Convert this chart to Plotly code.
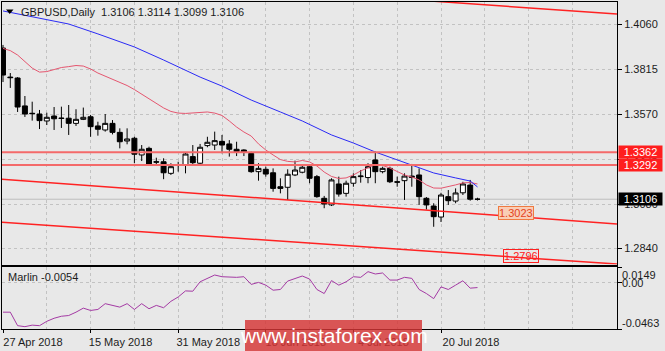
import plotly.graph_objects as go

W, H = 665, 351

# ---------------- data ----------------
bar_idx = list(range(66))
opens = [1.3929, 1.3771, 1.3766, 1.3614, 1.3574, 1.3570, 1.3532, 1.3559, 1.3548, 1.3547,
         1.3519, 1.3541, 1.3555, 1.3505, 1.3483, 1.3519, 1.3470, 1.3423, 1.3438, 1.3347,
         1.3383, 1.3310, 1.3310, 1.3247, 1.3292, 1.3292, 1.3338, 1.3302, 1.3398, 1.3401,
         1.3421, 1.3407, 1.3378, 1.3374, 1.3355, 1.3256, 1.3269, 1.3250, 1.3174, 1.3171,
         1.3238, 1.3253, 1.3283, 1.3229, 1.3111, 1.3075, 1.3189, 1.3138, 1.3193, 1.3229,
         1.3224, 1.3320, 1.3256, 1.3274, 1.3201, 1.3207, 1.3232, 1.3238, 1.3111, 1.3069,
         1.3009, 1.3120, 1.3096, 1.3141, 1.3183, 1.3106]
highs = [1.3946, 1.3793, 1.3771, 1.3668, 1.3637, 1.3592, 1.3577, 1.3608, 1.3610, 1.3619,
         1.3596, 1.3605, 1.3565, 1.3528, 1.3570, 1.3537, 1.3492, 1.3492, 1.3446, 1.3401,
         1.3392, 1.3332, 1.3329, 1.3302, 1.3310, 1.3359, 1.3401, 1.3407, 1.3446, 1.3474,
         1.3456, 1.3428, 1.3419, 1.3378, 1.3365, 1.3302, 1.3283, 1.3274, 1.3220, 1.3269,
         1.3316, 1.3292, 1.3292, 1.3238, 1.3124, 1.3220, 1.3229, 1.3207, 1.3247, 1.3265,
         1.3302, 1.3365, 1.3283, 1.3283, 1.3229, 1.3247, 1.3298, 1.3274, 1.3118, 1.3084,
         1.3141, 1.3156, 1.3165, 1.3201, 1.3211, 1.3114]
lows = [1.3744, 1.3712, 1.3581, 1.3554, 1.3534, 1.3488, 1.3510, 1.3483, 1.3494, 1.3456,
        1.3505, 1.3537, 1.3446, 1.3452, 1.3474, 1.3459, 1.3383, 1.3405, 1.3302, 1.3314,
        1.3292, 1.3292, 1.3215, 1.3238, 1.3256, 1.3247, 1.3292, 1.3292, 1.3389, 1.3374,
        1.3356, 1.3338, 1.3341, 1.3341, 1.3250, 1.3207, 1.3229, 1.3147, 1.3138, 1.3102,
        1.3232, 1.3247, 1.3193, 1.3114, 1.3057, 1.3069, 1.3120, 1.3120, 1.3174, 1.3196,
        1.3193, 1.3193, 1.3247, 1.3194, 1.3174, 1.3102, 1.3174, 1.3075, 1.3050, 1.2956,
        1.2982, 1.3075, 1.3084, 1.3129, 1.3098, 1.3099]
closes = [1.3782, 1.3768, 1.3608, 1.3570, 1.3572, 1.3534, 1.3552, 1.3544, 1.3546, 1.3519,
          1.3541, 1.3552, 1.3501, 1.3487, 1.3519, 1.3470, 1.3419, 1.3434, 1.3351, 1.3378,
          1.3296, 1.3308, 1.3250, 1.3283, 1.3290, 1.3352, 1.3305, 1.3389, 1.3416, 1.3425,
          1.3401, 1.3378, 1.3365, 1.3363, 1.3256, 1.3274, 1.3243, 1.3165, 1.3165, 1.3242,
          1.3265, 1.3280, 1.3220, 1.3120, 1.3080, 1.3211, 1.3134, 1.3193, 1.3229, 1.3232,
          1.3283, 1.3256, 1.3274, 1.3201, 1.3199, 1.3232, 1.3225, 1.3120, 1.3075, 1.3011,
          1.3129, 1.3098, 1.3140, 1.3189, 1.3106, 1.3106]

ma_fast = [1.3927, 1.3915, 1.3891, 1.3853, 1.3820, 1.3798, 1.3801, 1.3812, 1.3823, 1.3828,
           1.3834, 1.3831, 1.3815, 1.3793, 1.3777, 1.3760, 1.3744, 1.3725, 1.3703, 1.3679,
           1.3654, 1.3627, 1.3603, 1.3584, 1.3575, 1.3573, 1.3575, 1.3575, 1.3581, 1.3575,
           1.3562, 1.3532, 1.3499, 1.3472, 1.3450, 1.3407, 1.3374, 1.3347, 1.3322, 1.3312,
           1.3309, 1.3317, 1.3309, 1.3287, 1.3254, 1.3230, 1.3219, 1.3222, 1.3238, 1.3260,
           1.3279, 1.3295, 1.3290, 1.3276, 1.3257, 1.3238, 1.3227, 1.3211, 1.3184, 1.3167,
           1.3166, 1.3173, 1.3184, 1.3195, 1.3197, 1.3189]

ma_slow_bars = [0, 4, 9, 13, 18, 22, 27, 30, 34, 38, 41, 45, 48, 51, 54, 57, 59, 62, 64, 65]
ma_slow = [1.4131, 1.4101, 1.4060, 1.4006, 1.3935, 1.3864, 1.3771, 1.3722, 1.3646, 1.3581,
           1.3532, 1.3456, 1.3412, 1.3363, 1.3320, 1.3276, 1.3249, 1.3222, 1.3205, 1.3173]

marlin = [-0.0297, -0.0297, -0.0430, -0.0440, -0.0425, -0.0430, -0.0387, -0.0357, -0.0337, -0.0330,
          -0.0297, -0.0257, -0.0280, -0.0270, -0.0213, -0.0230, -0.0247, -0.0213, -0.0270, -0.0213,
          -0.0263, -0.0230, -0.0253, -0.0190, -0.0147, -0.0087, -0.0090, 0.0003, 0.0037, 0.0070,
          0.0053, 0.0047, 0.0047, 0.0053, -0.0023, -0.0003, -0.0030, -0.0080, -0.0073, 0.0010,
          0.0037, 0.0060, 0.0030, -0.0073, -0.0113, 0.0015, -0.0030, 0.0003, 0.0053, 0.0047,
          0.0103, 0.0080, 0.0090, 0.0020, 0.0020, 0.0047, 0.0037, -0.0073, -0.0113, -0.0163,
          -0.0047, -0.0073, -0.0030, 0.0013, -0.0060, -0.0054]

date_bars = [0, 12, 24, 36, 48, 60]
date_labels = ["27 Apr 2018", "15 May 2018", "31 May 2018", "18 Jun 2018", "4 Jul 2018", "20 Jul 2018"]

price_ticks = [1.4060, 1.3815, 1.3570, 1.3325, 1.3080, 1.2840]
price_tick_labels = ["1.4060", "1.3815", "1.3570", "1.3325", "1.3080", "1.2840"]

levels = [1.3362, 1.3292]
level_labels = ["1.3362", "1.3292"]
bid = 1.3106

trend_x = [-0.41, 84.1]
trend_mid = [1.3216, 1.2971]
trend_low = [1.2982, 1.2753]
trend_up_x = [54.4, 84.1]
trend_up = [1.4197, 1.4114]
label_mid = ("1.3023", 70.3, 1.3031)
label_low = ("1.2796", 71.0, 1.2797)

osc_max, osc_min = 0.0149, -0.0463
title_text = "GBPUSD,Daily\u00a0\u00a01.3106 1.3114 1.3099 1.3106"
osc_name = "Marlin -0.0054"

# ---------------- styling ----------------
FONT = "Liberation Sans, Arial, sans-serif"
BG = "#e8e8e8"
GRID = "#c2c2c2"
TXT = "#1c1c1c"


def px(xp):
    return xp / W


def py(yp):
    return 1 - yp / H


fig = go.Figure()

fig.add_trace(go.Candlestick(
    x=bar_idx, open=opens, high=highs, low=lows, close=closes,
    increasing=dict(line=dict(color="black", width=1), fillcolor="white"),
    decreasing=dict(line=dict(color="black", width=1), fillcolor="black"),
    whiskerwidth=0, xaxis="x", yaxis="y", hoverinfo="skip"))

fig.add_trace(go.Scatter(x=bar_idx, y=ma_fast, mode="lines",
                         line=dict(color="#e4566f", width=1), xaxis="x", yaxis="y"))
fig.add_trace(go.Scatter(x=ma_slow_bars, y=ma_slow, mode="lines",
                         line=dict(color="#2a2af5", width=1), xaxis="x", yaxis="y"))

for ys, xs in ((trend_mid, trend_x), (trend_low, trend_x), (trend_up, trend_up_x)):
    fig.add_trace(go.Scatter(x=xs, y=ys, mode="lines",
                             line=dict(color="#ff2222", width=1.5), xaxis="x", yaxis="y"))

for lv in levels:
    fig.add_trace(go.Scatter(x=[trend_x[0], trend_x[1]], y=[lv, lv], mode="lines",
                             line=dict(color="#f46a6a", width=2), xaxis="x", yaxis="y"))

fig.add_trace(go.Scatter(x=bar_idx, y=marlin, mode="lines",
                         line=dict(color="#a43aa4", width=1), xaxis="x2", yaxis="y2"))

shapes = [
    dict(type="line", xref="paper", yref="y", x0=px(2), x1=px(617), y0=bid, y1=bid,
         line=dict(color="#bdbdbd", width=1), layer="below"),
    dict(type="path", xref="paper", yref="paper",
         path=f"M {px(6)},{py(9.5)} L {px(13.5)},{py(9.5)} L {px(9.75)},{py(14)} Z",
         fillcolor="black", line=dict(width=0), layer="above"),
    dict(type="rect", xref="paper", yref="paper", x0=px(245), x1=px(422), y0=py(351), y1=py(320),
         fillcolor="rgba(214,52,52,0.82)", line=dict(width=0), layer="above"),
]

annotations = [
    dict(xref="paper", yref="paper", x=px(19), y=py(12), xanchor="left", yanchor="middle",
         text=title_text, showarrow=False, font=dict(family=FONT, size=11, color=TXT)),
    dict(xref="paper", yref="paper", x=px(6), y=py(277), xanchor="left", yanchor="middle",
         text=osc_name, showarrow=False, font=dict(family=FONT, size=11, color=TXT)),
    dict(xref="paper", yref="paper", x=px(334), y=py(335), xanchor="center", yanchor="middle",
         text="www.instaforex.com", showarrow=False,
         font=dict(family="Liberation Sans Narrow, Liberation Sans, Arial", size=21, color="white")),
]

for txt, lv in zip(level_labels, levels):
    annotations.append(dict(xref="paper", yref="y", x=px(618), y=lv, xanchor="left", yanchor="middle",
                            text=txt, showarrow=False, bgcolor="#ff1e1e", width=43, height=12,
                            borderpad=0, font=dict(family=FONT, size=11, color="white")))
annotations.append(dict(xref="paper", yref="y", x=px(618), y=bid, xanchor="left", yanchor="middle",
                        text=f"{bid:.4f}", showarrow=False, bgcolor="black", width=43, height=12,
                        borderpad=0, font=dict(family=FONT, size=11, color="white")))

annotations.append(dict(xref="x", yref="y", x=label_mid[1], y=label_mid[2], text=label_mid[0],
                        showarrow=False, bgcolor="#f9cdb6", bordercolor="#ef7a40", borderwidth=1,
                        borderpad=0, font=dict(family=FONT, size=11, color="#e4431c")))
annotations.append(dict(xref="x", yref="y", x=label_low[1], y=label_low[2], text=label_low[0],
                        showarrow=False, bordercolor="#ff2020", borderwidth=1,
                        borderpad=0, font=dict(family=FONT, size=11, color="#ff2020")))

for val, lab, shift in ((osc_max, "0.0149", -8), (0.0, "0.00", -1), (osc_min, "-0.0463", 6)):
    annotations.append(dict(xref="paper", yref="y2", x=px(620), y=val, yshift=shift,
                            xanchor="left", yanchor="middle", text=lab, showarrow=False,
                            font=dict(family=FONT, size=11, color=TXT)))

axis_common = dict(showline=True, linecolor="black", linewidth=1, mirror=True, zeroline=False,
                   gridcolor=GRID, griddash="3px,3px", gridwidth=1, fixedrange=True)

fig.update_layout(
    width=W, height=H, margin=dict(l=0, r=0, t=0, b=0),
    paper_bgcolor=BG, plot_bgcolor=BG, showlegend=False,
    boxgap=0.2, boxgroupgap=0.15,
    font=dict(family=FONT, size=11, color=TXT),
    xaxis=dict(domain=[px(2), px(617)], range=[-0.137, 84.11], anchor="y",
               tickmode="linear", tick0=0, dtick=6, showgrid=True, showticklabels=False,
               ticks="", rangeslider=dict(visible=False), **axis_common),
    yaxis=dict(domain=[py(264.5), py(2)], range=[1.27506, 1.41798], anchor="x", side="right",
               tickmode="array", tickvals=price_ticks, ticktext=price_tick_labels,
               ticks="outside", ticklen=4, tickcolor="black", showgrid=True,
               tickfont=dict(family=FONT, size=11, color=TXT), **axis_common),
    xaxis2=dict(domain=[px(2), px(617)], matches="x", anchor="y2",
                tickmode="array", tickvals=date_bars, ticktext=date_labels,
                ticks="outside", ticklen=3, tickcolor="black", ticklabelshift=30,
                showgrid=True, tickfont=dict(family=FONT, size=11, color=TXT),
                minor=dict(tickmode="linear", tick0=0, dtick=6, showgrid=True,
                           gridcolor=GRID, griddash="3px,3px", ticks=""),
                **axis_common),
    yaxis2=dict(domain=[py(329), py(267)], range=[osc_min, osc_max], anchor="x2", side="right",
                tickmode="array", tickvals=[osc_max, 0.0, osc_min], showticklabels=False,
                ticks="outside", ticklen=4, tickcolor="black", showgrid=True, **axis_common),
    shapes=shapes, annotations=annotations,
)

fig.write_html("out.html")
